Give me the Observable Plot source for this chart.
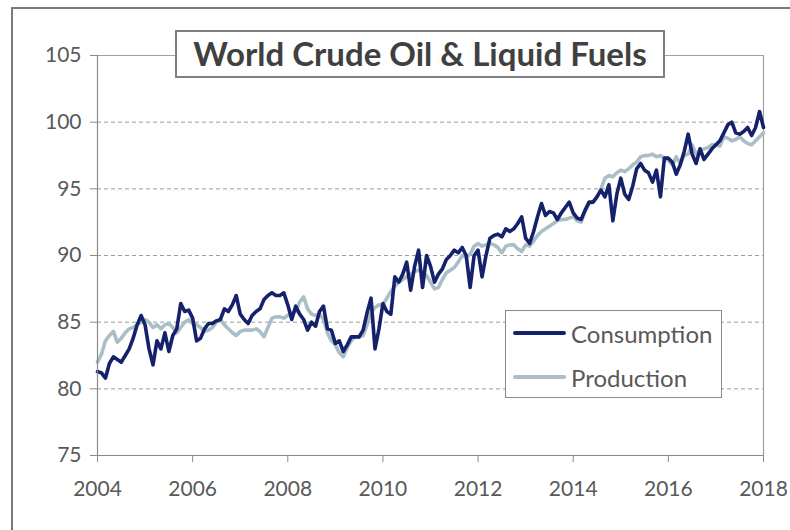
<!DOCTYPE html>
<html><head><meta charset="utf-8">
<script src="https://cdn.jsdelivr.net/npm/d3@7"></script>
<script src="https://cdn.jsdelivr.net/npm/@observablehq/plot@0.6"></script>
<style>
body{margin:0;background:#fff;width:790px;height:530px;overflow:hidden;position:relative;font-family:Lato,"Open Sans",sans-serif}
#frame{position:absolute;left:11px;top:7px;width:800px;height:540px;border:2px solid #7a7a7a;box-sizing:border-box}
#chart{position:absolute;left:0;top:0}
#title{position:absolute;left:175px;top:30px;width:490px;height:48px;box-sizing:border-box;border:2px solid #7f7f7f;background:#fff;font-weight:bold;font-size:33px;color:#404040;text-align:center;line-height:43px;white-space:nowrap}
#legend{position:absolute;left:505px;top:310px;width:217px;height:88px;box-sizing:border-box;border:1.5px solid #8a8a8a;background:#fff}
.item{position:absolute;left:7px;height:28px;display:flex;align-items:center;font-size:24px;color:#595959;white-space:nowrap}
.sw{width:53px;height:4px;margin-right:5px;border-radius:2px}
</style>
</head><body>
<div id="frame"></div>
<div id="chart"></div>
<div id="title"></div>
<div id="legend"></div>
<script>
const chartTitle = "World Crude Oil & Liquid Fuels";
const startYear = 2004;
const seriesNames = ["Consumption", "Production"];
const seriesColors = ["#16216c", "#a9bec6"];
const yTicks = [75, 80, 85, 90, 95, 100, 105];
const gridTicks = [80, 85, 90, 95, 100];
const xTicks = [2004, 2006, 2008, 2010, 2012, 2014, 2016, 2018];

// monthly values, Jan 2004 .. Jan 2018 (million barrels per day)
const consumption = [
  81.3, 81.2, 80.8, 81.9, 82.4, 82.2, 82.0, 82.5, 83.0, 83.8, 84.8, 85.5,
  84.8, 83.0, 81.8, 83.6, 83.0, 84.2, 82.8, 84.0, 84.5, 86.4, 85.8, 85.9,
  85.3, 83.6, 83.8, 84.5, 84.9, 84.9, 85.1, 85.2, 86.0, 85.8, 86.3, 87.0,
  85.6, 85.2, 84.9, 85.5, 85.8, 86.0, 86.7, 87.0, 87.2, 87.0, 87.0, 87.2,
  86.3, 85.2, 86.2, 85.6, 85.2, 84.4, 85.0, 84.7, 85.8, 86.2, 84.5, 84.4,
  83.4, 83.6, 82.8, 83.3, 83.9, 83.9, 83.9, 84.4, 85.7, 86.8, 83.0, 84.5,
  86.4, 85.8, 85.6, 88.4, 88.0, 88.6, 89.5, 87.4, 89.2, 90.4, 87.6, 90.0,
  89.2, 88.0, 88.6, 89.0, 89.7, 90.0, 90.4, 90.2, 90.6, 90.0, 87.6, 90.0,
  90.4, 88.4, 90.0, 91.3, 91.5, 91.6, 91.4, 92.0, 91.8, 92.0, 92.4, 92.9,
  91.3, 90.9, 91.8, 92.9, 93.9, 93.0, 93.3, 93.2, 92.7, 93.2, 93.6, 94.0,
  93.2, 92.8, 92.7, 93.4, 94.0, 94.0, 94.4, 94.9, 94.4, 95.3, 92.6, 94.6,
  95.8, 94.6, 94.2, 95.2, 96.5, 96.9, 96.4, 96.2, 95.5, 96.4, 94.4, 97.3,
  97.3, 97.0, 96.1, 96.8, 97.8, 99.1, 97.6, 96.9, 98.0, 97.2, 97.6, 98.0,
  98.3, 98.6, 99.2, 99.8, 100.0, 99.2, 99.1, 99.3, 99.6, 99.0, 99.6, 100.8,
  99.6
];
const production = [
  82.0, 82.6, 83.6, 84.0, 84.3, 83.5, 83.8, 84.2, 84.5, 84.6, 84.8, 85.0,
  85.2, 85.0, 84.6, 84.8, 84.5, 84.8, 84.9, 84.6, 84.2, 84.6, 85.0, 85.2,
  84.9, 84.8, 84.6, 84.3, 84.4, 84.6, 85.0, 85.2, 84.8, 84.5, 84.2, 84.0,
  84.3, 84.4, 84.4, 84.4, 84.5, 84.3, 83.9, 84.6, 85.3, 85.4, 85.4, 85.3,
  85.5, 85.7, 85.8, 86.5, 86.9, 86.0, 85.6, 85.5, 85.6, 85.2, 84.2, 83.6,
  83.3, 82.7, 82.4, 83.1, 83.6, 83.9, 83.9, 84.0, 84.8, 85.7, 86.1, 86.3,
  86.3, 86.8, 87.3, 87.7, 88.0, 88.2, 88.4, 88.6, 88.8, 88.9, 88.7, 88.5,
  88.0, 87.5, 87.6, 88.2, 88.7, 88.9, 89.1, 89.5, 90.0, 89.9, 90.1, 90.7,
  90.9, 90.7, 90.8, 90.9, 90.8, 90.6, 90.2, 90.7, 90.8, 90.8, 90.5, 90.3,
  90.8, 90.7, 91.1, 91.5, 91.8, 92.0, 92.2, 92.4, 92.6, 92.7, 92.7, 92.8,
  92.9, 92.6, 92.5, 93.3, 93.9, 94.0, 94.4, 95.0, 95.8, 96.0, 95.9, 96.2,
  96.4, 96.3, 96.5, 96.8, 97.0, 97.4, 97.5, 97.5, 97.6, 97.4, 97.5, 97.3,
  97.1, 96.8, 97.4, 96.9, 97.5, 97.6, 98.3, 97.6, 97.9, 98.0, 98.1, 98.3,
  98.3, 98.2, 98.9, 98.8, 98.6, 98.7, 98.9, 98.6, 98.4, 98.3, 98.6, 98.9,
  99.2
];

const toRows = (name, arr) => arr.map((v, i) => ({series: name, t: startYear + i / 12, v}));
const prodRows = toRows("Production", production);
const consRows = toRows("Consumption", consumption);

const chart = Plot.plot({
  width: 790, height: 530,
  marginLeft: 97, marginRight: 27, marginTop: 55, marginBottom: 75,
  style: {fontFamily: "Lato, 'Open Sans', sans-serif", fontSize: "21px", color: "#595959", background: "transparent", overflow: "visible"},
  x: {domain: [xTicks[0], xTicks[xTicks.length - 1]]},
  y: {domain: [yTicks[0], yTicks[yTicks.length - 1]]},
  color: {domain: seriesNames, range: seriesColors},
  marks: [
    Plot.ruleY(gridTicks, {stroke: "#9c9c9c", strokeDasharray: "4,3", strokeWidth: 1}),
    Plot.ruleY([yTicks[yTicks.length - 1]], {stroke: "#a0a0a0", strokeWidth: 1.2}),
    Plot.ruleX([xTicks[xTicks.length - 1]], {stroke: "#a0a0a0", strokeWidth: 1.2}),
    Plot.lineY(prodRows, {x: "t", y: "v", stroke: "series", strokeWidth: 3.6, strokeLinejoin: "round"}),
    Plot.lineY(consRows, {x: "t", y: "v", stroke: "series", strokeWidth: 3.6, strokeLinejoin: "round"}),
    Plot.ruleX([xTicks[0]], {stroke: "#8a8a8a", strokeWidth: 1.2}),
    Plot.ruleY([yTicks[0]], {stroke: "#8a8a8a", strokeWidth: 1.2}),
    Plot.axisY(yTicks, {tickSize: 7, tickPadding: 9, stroke: "#8a8a8a", fill: "#595959", label: null}),
    Plot.axisX(xTicks, {tickSize: 7, tickPadding: 19, stroke: "#8a8a8a", fill: "#595959", label: null, tickFormat: d => String(d)})
  ]
});
document.getElementById("chart").appendChild(chart);

document.getElementById("title").textContent = chartTitle;
const legend = document.getElementById("legend");
seriesNames.forEach((name, i) => {
  const item = document.createElement("div");
  item.className = "item";
  item.style.top = (8 + i * 44) + "px";
  const sw = document.createElement("div");
  sw.className = "sw";
  sw.style.background = seriesColors[i];
  const label = document.createElement("span");
  label.textContent = name;
  item.appendChild(sw);
  item.appendChild(label);
  legend.appendChild(item);
});
</script>
</body></html>
